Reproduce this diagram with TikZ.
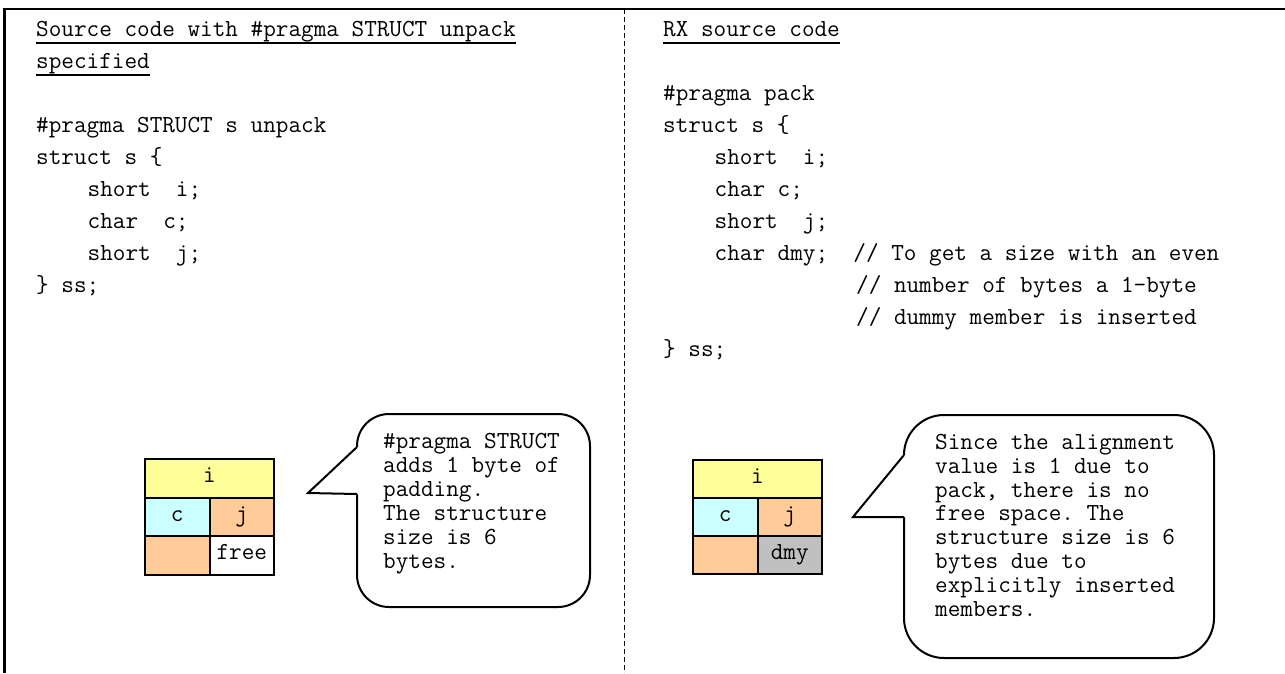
\documentclass[tikz,border=0pt]{standalone}
\usepackage{fontspec}
\newcommand\mycodefont{\ttfamily\fontsize{24.5}{32}\selectfont\frenchspacing}
\definecolor{cyel}{HTML}{FFFF99}
\definecolor{ccyan}{HTML}{CCFFFF}
\definecolor{corange}{HTML}{FFCC99}
\definecolor{cgray}{HTML}{C0C0C0}
\begin{document}
\begin{tikzpicture}[x=1pt,y=-1pt,
  code/.style={font=\mycodefont, anchor=base west, inner sep=0pt},
  frameline/.style={line width=2.6pt},
  divider/.style={line width=1pt, dash pattern=on 5pt off 3pt},
  uline/.style={line width=1.3pt},
  cell/.style={draw=black, line width=2pt, font=\mycodefont, inner sep=0pt,
    text height=11pt, text depth=3pt, minimum height=38.67pt},
  wide/.style={cell, minimum width=129pt},
  half/.style={cell, minimum width=64.5pt},
  calloutbox/.style={draw=black, line width=2pt, fill=white},
  pointer/.style={draw=black, line width=2pt, line join=miter},
]
\useasboundingbox (0,0) rectangle (1285,673);
% frame
\coordinate (fbl) at (4.5,673);
\coordinate (ftl) at (4.5,9);
\coordinate (ftr) at (1285,9);
\draw[frameline] (fbl) -- (ftl) -- (ftr);
\coordinate (dtop) at (624,9);
\coordinate (dbot) at (624,673);
\draw[divider] (dtop) -- (dbot);

% left code
\def\lx{36}
\def\rx{663}
\def\cw{12.8625}
\node[code] (lh1) at (\lx,36.5) {Source code with \#pragma STRUCT unpack};
\node[code] (lh2) at (\lx,68.5) {specified};
\draw[uline] ([yshift=-6.5pt]lh1.base west) -- ([yshift=-6.5pt]lh1.base east);
\draw[uline] ([yshift=-6.5pt]lh2.base west) -- ([yshift=-6.5pt]lh2.base east);
\node[code] (l3) at (\lx,132.5) {\#pragma STRUCT s unpack};
\node[code] (l4) at (\lx,164.5) {struct s \{};
\node[code] (l5) at (\lx+4*\cw,196.5) {short~~i;};
\node[code] (l6) at (\lx+4*\cw,228.5) {char~~c;};
\node[code] (l7) at (\lx+4*\cw,260.5) {short~~j;};
\node[code] (l8) at (\lx,292.5) {\} ss;};

% right code
\node[code] (rh1) at (\rx,36.5) {RX source code};
\draw[uline] ([yshift=-6.5pt]rh1.base west) -- ([yshift=-6.5pt]rh1.base east);
\node[code] (r2) at (\rx,100.5) {\#pragma pack};
\node[code] (r3) at (\rx,132.5) {struct s \{};
\node[code] (r4) at (\rx+4*\cw,164.5) {short~~i;};
\node[code] (r5) at (\rx+4*\cw,196.5) {char c;};
\node[code] (r6) at (\rx+4*\cw,228.5) {short~~j;};
\node[code] (r7) at (\rx+4*\cw,260.5) {char dmy;~~// To get a size with an even};
\node[code] (r8) at (\rx+15*\cw,292.5) {// number of bytes a 1-byte};
\node[code] (r9) at (\rx+15*\cw,324.5) {// dummy member is inserted};
\node[code] (r10) at (\rx,356.5) {\} ss;};

% left table
\node[wide, fill=cyel] (ti) at (209.5,478.3) {i};
\node[half, fill=ccyan] (tc) at (177.25,517) {c};
\node[half, fill=corange] (tj) at (241.75,517) {j};
\node[half, fill=corange] (tp) at (177.25,555.7) {};
\node[half, fill=white] (tf) at (241.75,555.7) {free};

% right table
\node[wide, fill=cyel] (ui) at (757.5,479) {i};
\node[half, fill=ccyan] (uc) at (725.25,517) {c};
\node[half, fill=corange] (uj) at (789.75,517) {j};
\node[half, fill=corange] (up) at (725.25,555) {};
\node[half, fill=cgray] (ud) at (789.75,555) {dmy};

% left callout
\draw[calloutbox, rounded corners=32pt] (357,414) rectangle (590,607);
\fill[white] (355,447) -- (308,493) -- (355,494) -- (359.5,494) -- (359.5,447) -- cycle;
\coordinate (lpa) at (357,447);
\coordinate (lpt) at (308,493);
\coordinate (lpb) at (357,494);
\draw[pointer] (lpa) -- (lpt) -- (lpb);
\foreach \t [count=\k from 0] in {\#pragma STRUCT, adds 1 byte of, padding., The structure, size is 6, bytes.}
  \node[code] (lc\k) at (383,448+24*\k) {\t};

% right callout
\draw[calloutbox, rounded corners=40pt] (904,415) rectangle (1214,658);
\fill[white] (902,455) -- (853,517) -- (902,517) -- (906.5,517) -- (906.5,455) -- cycle;
\coordinate (rpa) at (904,455);
\coordinate (rpt) at (853,517);
\coordinate (rpb) at (904,517);
\draw[pointer] (rpa) -- (rpt) -- (rpb);
\foreach \t [count=\k from 0] in {Since the alignment, value is 1 due to, {pack, there is no}, free space. The, structure size is 6, bytes due to, explicitly inserted, members.}
  \node[code] (rc\k) at (935,449.5+23.8*\k) {\t};
\end{tikzpicture}
\end{document}
